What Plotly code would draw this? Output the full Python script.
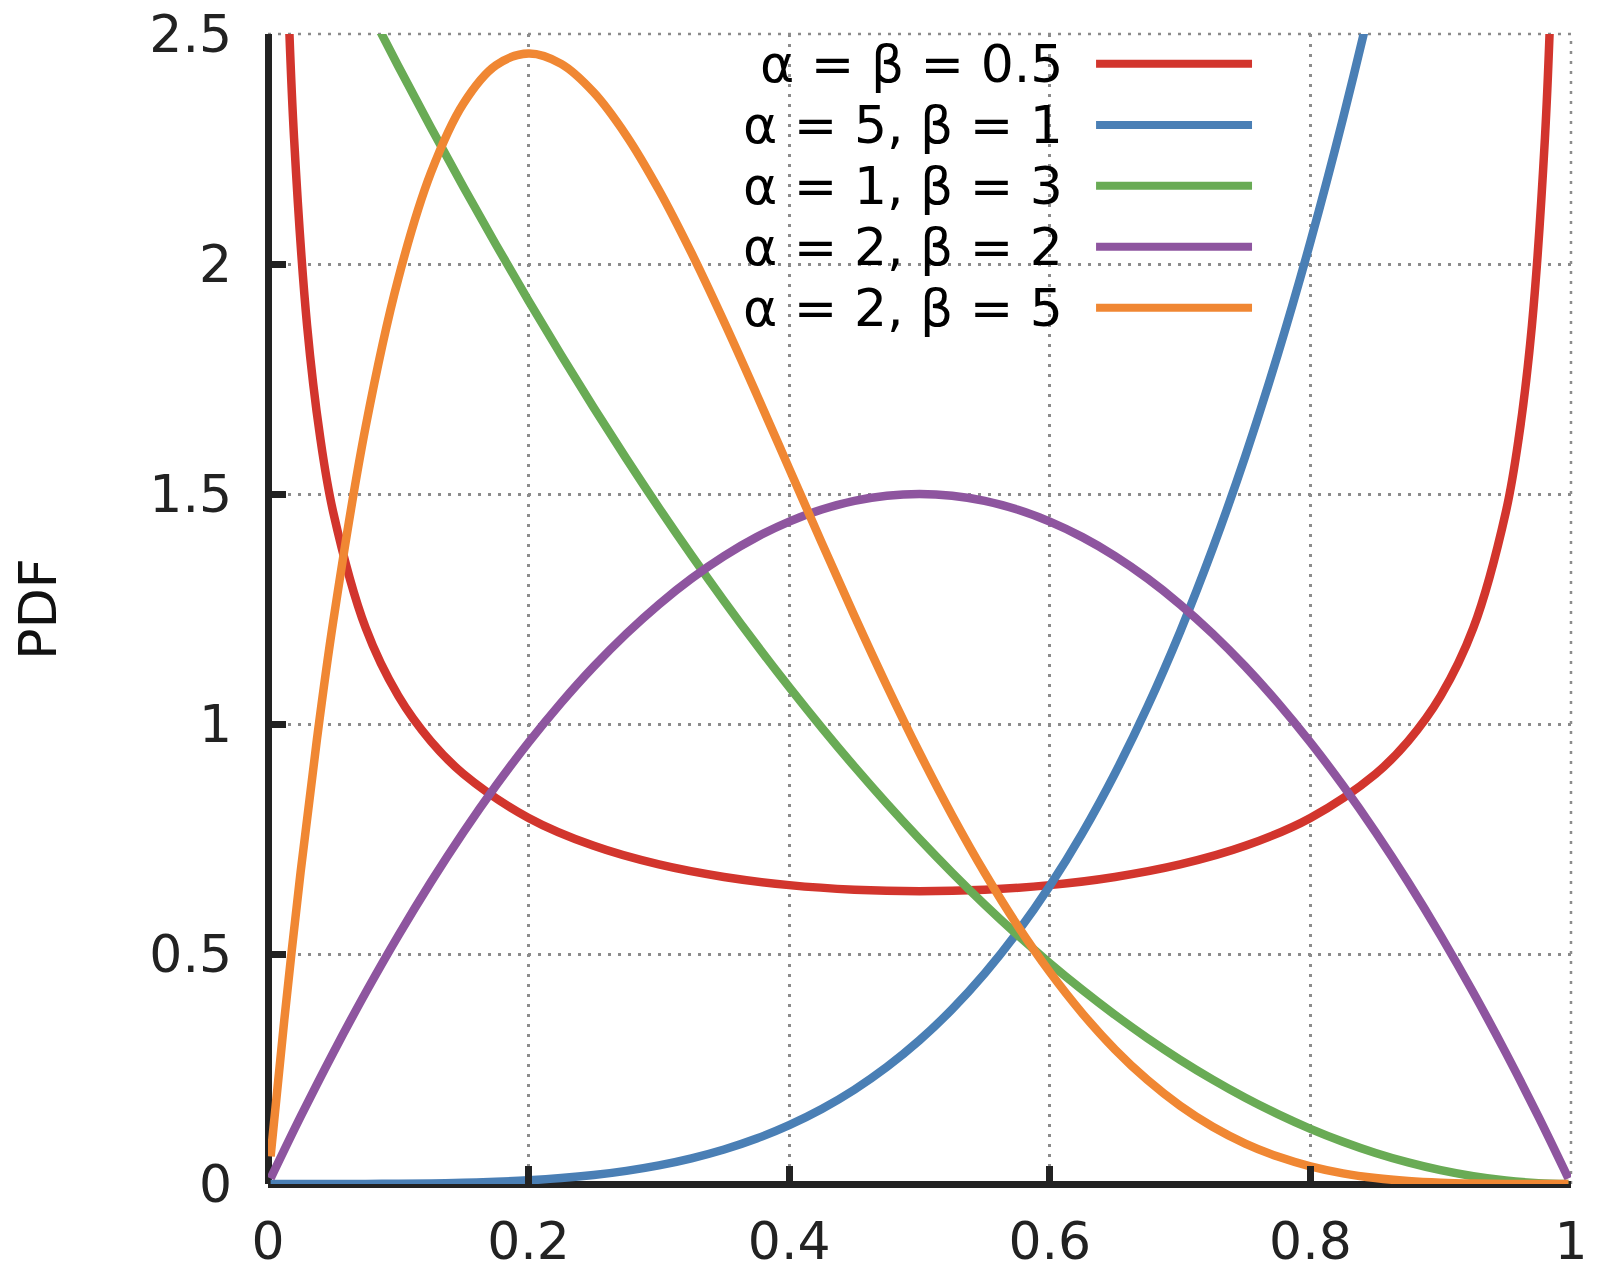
import plotly.graph_objects as go

# sample points
x_grid = [0.002, 0.025, 0.05, 0.075, 0.1, 0.125, 0.15, 0.175, 0.2, 0.225, 0.25, 0.275, 0.3, 0.325,
          0.35, 0.375, 0.4, 0.425, 0.45, 0.475, 0.5, 0.525, 0.55, 0.575, 0.6, 0.625, 0.65, 0.675,
          0.7, 0.725, 0.75, 0.775, 0.8, 0.825, 0.85, 0.875, 0.9, 0.925, 0.95, 0.975, 0.998]

x_red = [0.005, 0.01, 0.015, 0.02, 0.03, 0.04, 0.05, 0.075, 0.1, 0.125, 0.15, 0.2, 0.25, 0.3, 0.35,
         0.4, 0.45, 0.5, 0.55, 0.6, 0.65, 0.7, 0.75, 0.8, 0.85, 0.875, 0.9, 0.925, 0.95, 0.96,
         0.97, 0.98, 0.985, 0.99, 0.995]
y_red = [4.513, 3.199, 2.619, 2.274, 1.866, 1.624, 1.461, 1.2085, 1.061, 0.9625, 0.8914, 0.7958,
         0.7351, 0.6946, 0.6674, 0.6497, 0.6398, 0.6366, 0.6398, 0.6497, 0.6674, 0.6946, 0.7351,
         0.7958, 0.8914, 0.9625, 1.061, 1.2085, 1.461, 1.624, 1.866, 2.274, 2.619, 3.199, 4.513]

y_blue = [0.0, 0.0, 0.00003, 0.00016, 0.0005, 0.0012, 0.0025, 0.0047, 0.008, 0.0128, 0.0195,
          0.0286, 0.0405, 0.0558, 0.075, 0.0989, 0.128, 0.1631, 0.205, 0.2545, 0.3125, 0.3798,
          0.4575, 0.5466, 0.648, 0.7629, 0.8925, 1.038, 1.2005, 1.3814, 1.582, 1.8038, 2.048,
          2.3163, 2.61, 2.9309, 3.2805, 3.6605, 4.0725, 4.5184, 4.96]

y_green = [2.988, 2.852, 2.7075, 2.5669, 2.43, 2.2969, 2.1675, 2.0419, 1.92, 1.8019, 1.6875,
           1.5769, 1.47, 1.3669, 1.2675, 1.1719, 1.08, 0.9919, 0.9075, 0.8269, 0.75, 0.6769,
           0.6075, 0.5419, 0.48, 0.4219, 0.3675, 0.3169, 0.27, 0.2269, 0.1875, 0.1519, 0.12,
           0.0919, 0.0675, 0.0469, 0.03, 0.0169, 0.0075, 0.0019, 0.0]

y_purple = [0.012, 0.14625, 0.285, 0.41625, 0.54, 0.65625, 0.765, 0.86625, 0.96, 1.04625, 1.125,
            1.19625, 1.26, 1.31625, 1.365, 1.40625, 1.44, 1.46625, 1.485, 1.49625, 1.5, 1.49625,
            1.485, 1.46625, 1.44, 1.40625, 1.365, 1.31625, 1.26, 1.19625, 1.125, 1.04625, 0.96,
            0.86625, 0.765, 0.65625, 0.54, 0.41625, 0.285, 0.14625, 0.012]

x_orange = [0.002, 0.0125, 0.025, 0.0375, 0.05, 0.075, 0.1, 0.125, 0.15, 0.175, 0.2, 0.225, 0.25,
            0.275, 0.3, 0.325, 0.35, 0.375, 0.4, 0.425, 0.45, 0.475, 0.5, 0.525, 0.55, 0.575, 0.6,
            0.625, 0.65, 0.675, 0.7, 0.725, 0.75, 0.775, 0.8, 0.825, 0.85, 0.875, 0.9, 0.925,
            0.95, 0.975, 0.998]
y_orange = [0.06, 0.3566, 0.6778, 0.9655, 1.2218, 1.6472, 1.9683, 2.1982, 2.349, 2.4321, 2.4576,
            2.4351, 2.373, 2.2793, 2.1609, 2.024, 1.8743, 1.7166, 1.5552, 1.3937, 1.2353, 1.0826,
            0.9375, 0.8018, 0.6766, 0.5628, 0.4608, 0.3708, 0.2926, 0.2259, 0.1701, 0.1244,
            0.0879, 0.0596, 0.0384, 0.0232, 0.0129, 0.0064, 0.0027, 0.0009, 0.0002, 0.0, 0.0]

names = ['α = β = 0.5', 'α = 5, β = 1', 'α = 1, β = 3', 'α = 2, β = 2', 'α = 2, β = 5']
colors = ['#d2352d', '#4a7fb5', '#69ab55', '#8e559f', '#f08733']

x_ticks = [0, 0.2, 0.4, 0.6, 0.8, 1]
x_ticktext = ['0', '0.2', '0.4', '0.6', '0.8', '1']
y_ticks = [0, 0.5, 1, 1.5, 2, 2.5]
y_ticktext = ['0', '0.5', '1', '1.5', '2', '2.5']

series = [(x_red, y_red), (x_grid, y_blue), (x_grid, y_green), (x_grid, y_purple), (x_orange, y_orange)]

FONT = 'DejaVu Sans'
GRID = dict(color='#8c8c8c', width=2.5, dash='3px,7px')

fig = go.Figure()
for (xs, ys), nm, col in zip(series, names, colors):
    fig.add_trace(go.Scatter(x=xs, y=ys, name=nm, mode='lines',
                             line=dict(color=col, width=8.5, shape='spline'),
                             showlegend=False))

# legend drawn by hand: text on the left, line sample on the right (gnuplot style)
legend_rows = [0.9742, 0.9209, 0.8681, 0.815, 0.762]
for nm, col, yy in zip(names, colors, legend_rows):
    fig.add_annotation(text=nm, xref='x domain', yref='y domain', x=0.6116, y=yy,
                       xanchor='right', yanchor='middle', showarrow=False,
                       font=dict(family=FONT, size=52, color='#000000'))
    fig.add_shape(type='line', xref='x domain', yref='y domain', x0=0.6355, x1=0.7552,
                  y0=yy, y1=yy, line=dict(color=col, width=8))

# dotted grid along the top and right edges
fig.add_shape(type='line', xref='x domain', yref='y domain', x0=0, x1=1, y0=1, y1=1,
              line=GRID, layer='below')
fig.add_shape(type='line', xref='x domain', yref='y domain', x0=1, x1=1, y0=0, y1=1,
              line=GRID, layer='below')

fig.update_xaxes(range=[0, 1], tickvals=x_ticks, ticktext=x_ticktext,
                 ticks='inside', ticklen=18, tickwidth=7, tickcolor='#222222',
                 ticklabelstandoff=22, ticklabeloverflow='allow',
                 showgrid=True, gridcolor=GRID['color'], gridwidth=GRID['width'], griddash=GRID['dash'],
                 zeroline=True, zerolinecolor='#222222', zerolinewidth=7, showline=False,
                 tickfont=dict(family=FONT, size=52, color='#222222'))
fig.update_yaxes(range=[0, 2.5], tickvals=y_ticks, ticktext=y_ticktext,
                 ticks='inside', ticklen=18, tickwidth=7, tickcolor='#222222',
                 ticklabelstandoff=35, ticklabeloverflow='allow',
                 showgrid=True, gridcolor=GRID['color'], gridwidth=GRID['width'], griddash=GRID['dash'],
                 zeroline=True, zerolinecolor='#222222', zerolinewidth=7, showline=False,
                 tickfont=dict(family=FONT, size=52, color='#222222'),
                 title=dict(text='PDF', standoff=91, font=dict(family=FONT, size=52, color='#111111')))

# page body has an 8px margin, so the figure is a bit smaller than the window
fig.update_layout(width=1588, height=1264,
                  margin=dict(l=260, r=25, t=26, b=88, autoexpand=False),
                  plot_bgcolor='white', paper_bgcolor='white',
                  font=dict(family=FONT))

fig.write_html("out.html")
